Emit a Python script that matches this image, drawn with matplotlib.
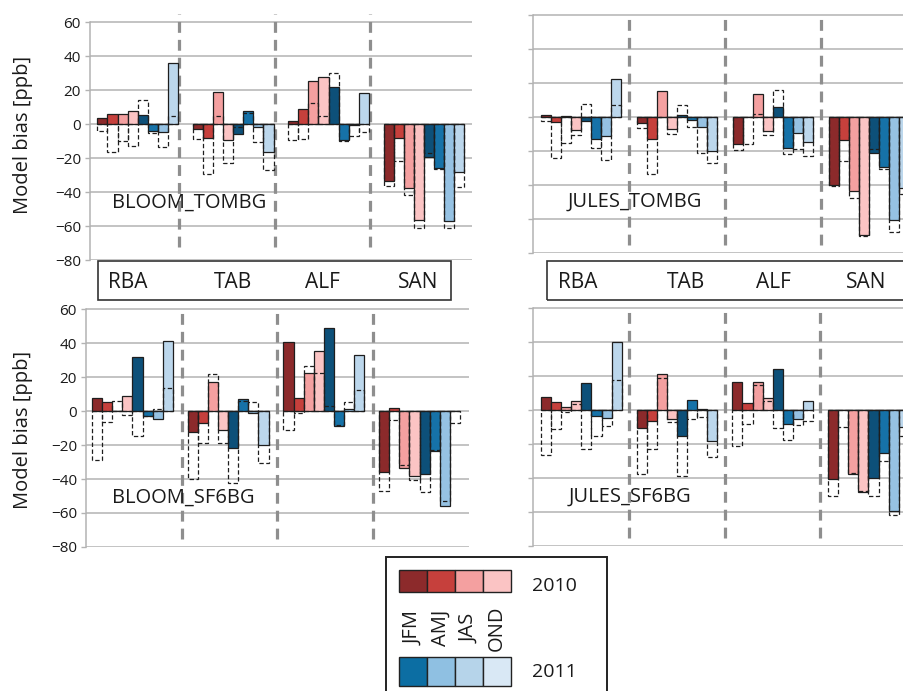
import matplotlib
matplotlib.use("Agg")
import matplotlib.pyplot as plt
from matplotlib.patches import Rectangle

plt.rcParams['font.family'] = ['Open Sans', 'DejaVu Sans']

W, H = 904, 691
PX_PER_PPB = 1.7
YMIN, YMAX = -80, 66

sites = ["RBA", "TAB", "ALF", "SAN"]
quarters = ["JFM", "AMJ", "JAS", "OND"]
years = ["2010", "2011"]
yticks = [-80, -60, -40, -20, 0, 20, 40, 60]

# 2010 JFM..OND (reds), then 2011 JFM..OND (blues)
bar_colors = ["#8c2a2b", "#c6403c", "#f4a0a0", "#fbc4c4",
              "#0d5079", "#1672a8", "#96c2e3", "#bcd7ec"]
legend_2010 = ["#8c2a2b", "#c6403c", "#f4a0a0", "#fbc4c4"]
legend_2011 = ["#0c6ea3", "#8fc0e2", "#b6d4ea", "#d9e8f5"]

# Model bias [ppb]; one row per site, 8 seasons (2010 JFM..OND, 2011 JFM..OND)
bloom_tombg = [
    [3.7, 5.9, 5.9, 7.5, 5.3, -4.1, -4.9, 36.0],
    [-2.9, -8.2, 19.0, -9.2, -5.9, 7.6, -2.0, -16.3],
    [1.6, 8.6, 25.3, 27.8, 21.6, -9.6, -0.4, 18.4],
    [-33.5, -8.4, -37.8, -56.5, -19.2, -26.0, -57.0, -28.2],
]
bloom_tombg_dashed = [
    [-4.1, -16.7, -9.8, -12.7, 13.9, -5.3, -13.7, 4.9],
    [-8.8, -29.6, 4.7, -22.9, -2.0, 6.5, -10.8, -27.3],
    [-9.6, -9.0, 12.4, 4.7, 29.8, -10.2, -6.9, -4.7],
    [-36.3, -21.6, -41.8, -61.0, -17.3, -26.5, -61.2, -36.9],
]

jules_tombg = [
    [1.4, -3.1, 0.6, -7.5, -2.4, -13.1, -11.2, 22.2],
    [-3.3, -13.1, 15.3, -7.3, 1.2, -1.6, -5.9, -20.2],
    [-15.9, 0.0, 13.7, -8.4, 5.7, -18.2, -9.4, -14.7],
    [-40.0, -13.7, -43.6, -69.3, -21.0, -29.6, -60.7, -41.6],
]
jules_tombg_dashed = [
    [-2.4, -24.0, -15.5, -10.4, 7.8, -18.2, -25.5, 7.1],
    [-6.3, -33.7, 0.2, -10.2, 7.1, -5.9, -21.0, -26.9],
    [-19.6, -15.9, 2.0, -10.8, 15.7, -21.6, -18.6, -22.7],
    [-40.6, -25.9, -47.9, -70.0, -19.0, -30.6, -67.4, -45.5],
]

bloom_sf6bg = [
    [7.5, 5.2, 0.0, 8.8, 31.6, -2.8, -4.8, 41.4],
    [-12.5, -7.2, 17.3, -11.3, -21.5, 7.0, -1.0, -20.2],
    [40.8, 7.8, 22.4, 35.3, 49.0, -8.8, 1.4, 32.7],
    [-35.9, 1.6, -33.3, -38.2, -37.3, -23.5, -55.9, 0.0],
]
bloom_sf6bg_dashed = [
    [-29.0, -6.2, 6.0, -2.6, -14.9, -3.2, 1.2, 13.5],
    [-40.2, -18.8, 22.0, -19.0, -42.5, 6.0, 5.5, -30.6],
    [-11.4, -1.2, 26.7, 22.5, 2.7, -8.0, 5.3, 12.2],
    [-47.0, -5.5, -32.0, -40.8, -47.6, -23.0, -52.9, -7.3],
]

jules_sf6bg = [
    [7.8, 4.7, 1.6, 5.5, 15.9, -3.7, -4.7, 39.8],
    [-10.4, -6.5, 21.0, -5.3, -15.5, 6.1, 0.8, -18.2],
    [16.7, 4.1, 16.5, 7.3, 24.1, -8.2, -5.5, 5.5],
    [-40.6, 0.0, -37.8, -48.2, -40.2, -25.5, -59.2, -9.8],
]
jules_sf6bg_dashed = [
    [-26.3, -11.4, -1.0, 3.5, -22.9, -15.5, -9.2, 17.6],
    [-37.6, -22.9, 18.8, -7.3, -38.6, -5.3, -4.1, -27.8],
    [-21.4, -8.2, 14.5, 5.5, -10.8, -17.8, -8.8, -6.5],
    [-50.8, -10.0, -37.3, -47.8, -50.4, -29.8, -61.6, -15.5],
]

panels = [
    dict(name="BLOOM_TOMBG", bias=bloom_tombg, dashed=bloom_tombg_dashed,
         left=90, bottom=260, gw=95.4, off=0.077, sep=0.935,
         sep_span=(-72.5, 64.5), ticklabels=True, text_xy=(0.23, -46.5)),
    dict(name="JULES_TOMBG", bias=jules_tombg, dashed=jules_tombg_dashed,
         left=533, bottom=253, gw=96.0, off=0.08, sep=1.0,
         sep_span=(-75.0, 61.3), ticklabels=False, text_xy=(0.365, -50)),
    dict(name="BLOOM_SF6BG", bias=bloom_sf6bg, dashed=bloom_sf6bg_dashed,
         left=86, bottom=547, gw=95.7, off=0.063, sep=1.0,
         sep_span=(-75.0, 61.3), ticklabels=True, text_xy=(0.27, -51)),
    dict(name="JULES_SF6BG", bias=jules_sf6bg, dashed=jules_sf6bg_dashed,
         left=533.3, bottom=546, gw=95.7, off=0.08, sep=1.0,
         sep_span=(-75.0, 61.3), ticklabels=False, text_xy=(0.365, -51)),
]

GRID = "#b3b3b3"
SEP = "#8e8e8e"
EDGE = "#1e1e1e"

fig = plt.figure(figsize=(W / 100, H / 100), dpi=100)


def fx(px):
    return px / W


def fy(py):
    return 1 - py / H


for p in panels:
    n_units = 4.0
    width_px = n_units * p["gw"]
    height_px = (YMAX - YMIN) * PX_PER_PPB
    ax = fig.add_axes([fx(p["left"]), fy(p["bottom"]), width_px / W, height_px / H])
    ax.set_xlim(0, n_units)
    ax.set_ylim(YMIN, YMAX)
    ax.set_yticks(yticks)
    ax.set_xticks([])
    ax.yaxis.grid(True, color=GRID, lw=1.1, zorder=0)
    ax.set_axisbelow(True)
    for s in ("top", "right", "bottom"):
        ax.spines[s].set_visible(False)
    ax.spines["left"].set_color(GRID)
    ax.spines["left"].set_linewidth(1.1)
    ax.spines["left"].set_bounds(-80, 60)
    ax.tick_params(axis="y", length=3.5, width=1.0, color=GRID, pad=3,
                   labelsize=11, labelcolor="#1a1a1a",
                   labelleft=p["ticklabels"])

    bw = 10.1 / p["gw"]
    for g in range(4):
        xs = [g + p["off"] + k * bw for k in range(8)]
        ax.bar(xs, p["bias"][g], width=bw, align="edge", color=bar_colors,
               edgecolor=EDGE, linewidth=0.9, zorder=2)
        ax.bar(xs, p["dashed"][g], width=bw, align="edge", fill=False,
               edgecolor=EDGE, linewidth=0.9, linestyle=(0, (3.5, 2.0)),
               zorder=3)

    for g in range(3):
        ax.plot([g + p["sep"]] * 2, p["sep_span"], color=SEP, lw=2.3,
                dashes=(3.4, 2.2), zorder=1.5, solid_capstyle="butt")

    ax.text(p["text_xy"][0], p["text_xy"][1], p["name"], fontsize=14.5,
            color="#1a1a1a", va="center", ha="left", zorder=5)

# y-axis labels
for cy in (135, 430):
    fig.text(fx(23), fy(cy), "Model bias [ppb]", rotation=90, fontsize=14.5,
             ha="center", va="center", color="#1a1a1a")

# site label boxes between the rows
boxes = [
    dict(x0=98, x1=451, label_x=[128, 233, 322, 418]),
    dict(x0=547, x1=930, label_x=[578, 686, 773, 866]),
]
for b in boxes:
    fig.patches.append(Rectangle((fx(b["x0"]), fy(300)), (b["x1"] - b["x0"]) / W,
                                 39 / H, transform=fig.transFigure,
                                 fill=False, edgecolor="#333333", lw=1.2))
    for sx, site in zip(b["label_x"], sites):
        fig.text(fx(sx), fy(282), site, fontsize=15, ha="center",
                 va="center", color="#1a1a1a")

# season/year legend
fig.patches.append(Rectangle((fx(386), fy(700)), 221 / W, 143 / H,
                             transform=fig.transFigure, fill=False,
                             edgecolor="#222222", lw=1.4))
sq_w, sq_h = 28, 22
for i, c in enumerate(legend_2010):
    fig.patches.append(Rectangle((fx(399 + i * sq_w), fy(592)), sq_w / W, sq_h / H,
                                 transform=fig.transFigure, facecolor=c,
                                 edgecolor="#222222", lw=1.0))
for i, c in enumerate(legend_2011):
    fig.patches.append(Rectangle((fx(399 + i * sq_w), fy(686)), sq_w / W, 29 / H,
                                 transform=fig.transFigure, facecolor=c,
                                 edgecolor="#222222", lw=1.0))
fig.text(fx(532), fy(586), years[0], fontsize=14, ha="left", va="center",
         color="#1a1a1a")
fig.text(fx(532), fy(672), years[1], fontsize=14, ha="left", va="center",
         color="#1a1a1a")
for i, q in enumerate(quarters):
    fig.text(fx(413 + i * sq_w), fy(628), q, fontsize=14.5, rotation=90,
             ha="center", va="center", color="#1a1a1a")

fig.savefig("out.png", dpi=100)
